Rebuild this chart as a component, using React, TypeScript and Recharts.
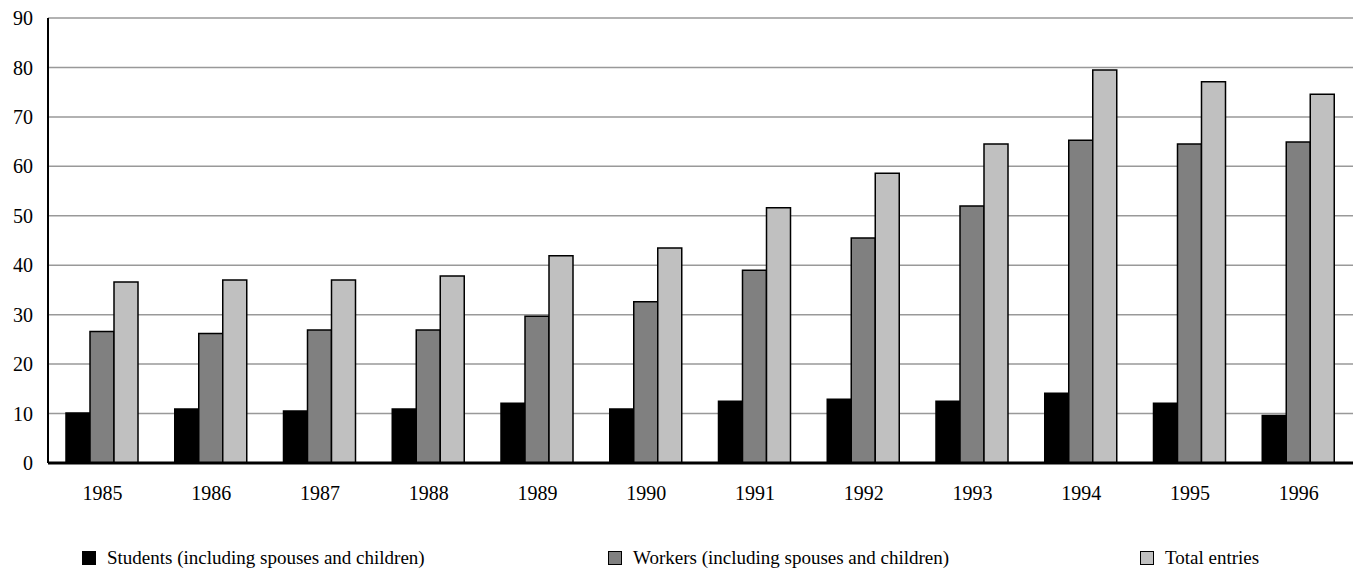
import React from "react";
import { BarChart, Bar, XAxis, YAxis, CartesianGrid, Legend } from "recharts";

const years = ["1985", "1986", "1987", "1988", "1989", "1990", "1991", "1992", "1993", "1994", "1995", "1996"];
const students = [10.1, 10.9, 10.5, 10.9, 12.1, 10.9, 12.5, 12.9, 12.5, 14.1, 12.1, 9.6];
const workers = [26.6, 26.2, 26.9, 26.9, 29.7, 32.6, 39.0, 45.5, 52.0, 65.3, 64.5, 64.9];
const totals = [36.6, 37.0, 37.0, 37.8, 41.9, 43.5, 51.6, 58.6, 64.5, 79.5, 77.1, 74.6];
const yTicks = [0, 10, 20, 30, 40, 50, 60, 70, 80, 90];

const seriesNames = {
  students: "Students (including spouses and children)",
  workers: "Workers (including spouses and children)",
  total: "Total entries",
};

const data = years.map((year, i) => ({
  year,
  students: students[i],
  workers: workers[i],
  total: totals[i],
}));

const FONT = "'Times New Roman', Tinos, 'Liberation Serif', 'DejaVu Serif', serif";

const legendItems = [
  { key: "students", color: "#000000", left: 82 },
  { key: "workers", color: "#808080", left: 608 },
  { key: "total", color: "#c0c0c0", left: 1140 },
];

const ChartLegend = () => (
  <div style={{ position: "relative", width: 1355, height: 26, fontFamily: FONT, fontSize: 19, color: "#000" }}>
    {legendItems.map((item) => (
      <div
        key={item.key}
        style={{ position: "absolute", left: item.left, top: 0, height: 26, display: "flex", alignItems: "center", whiteSpace: "nowrap" }}
      >
        <span
          style={{
            display: "inline-block",
            width: 12,
            height: 12,
            background: item.color,
            border: "1.5px solid #000",
            marginRight: 11,
          }}
        />
        <span>{seriesNames[item.key as keyof typeof seriesNames]}</span>
      </div>
    ))}
  </div>
);

const App = () => (
  <div style={{ position: "absolute", left: 0, top: 0, fontFamily: FONT }}>
    <BarChart
      width={1355}
      height={571}
      data={data}
      margin={{ top: 18, right: 2, left: 0, bottom: 0 }}
      barGap={0}
      barCategoryGap={18}
    >
      <CartesianGrid horizontal vertical={false} stroke="#999999" strokeWidth={1.5} />
      <XAxis
        dataKey="year"
        tickLine={false}
        tickSize={0}
        tickMargin={23}
        height={82}
        axisLine={{ stroke: "#000", strokeWidth: 3 }}
        tick={{ fill: "#000", fontSize: 20, fontFamily: FONT }}
      />
      <XAxis xAxisId="top" orientation="top" dataKey="year" height={0} tick={false} tickLine={false} axisLine={{ stroke: "#000", strokeWidth: 1.5 }} />
      <YAxis
        domain={[0, 90]}
        ticks={yTicks}
        width={48}
        tickLine={false}
        tickSize={0}
        tickMargin={15}
        axisLine={{ stroke: "#000", strokeWidth: 2 }}
        tick={{ fill: "#000", fontSize: 20, fontFamily: FONT }}
      />
      <YAxis yAxisId="right" orientation="right" width={0} domain={[0, 90]} tick={false} tickLine={false} axisLine={{ stroke: "#000", strokeWidth: 1.5 }} />
      <Legend verticalAlign="bottom" height={26} content={() => <ChartLegend />} />
      <Bar dataKey="students" name={seriesNames.students} fill="#000000" stroke="#000" strokeWidth={1.5} isAnimationActive={false} />
      <Bar dataKey="workers" name={seriesNames.workers} fill="#808080" stroke="#000" strokeWidth={1.5} isAnimationActive={false} />
      <Bar dataKey="total" name={seriesNames.total} fill="#c0c0c0" stroke="#000" strokeWidth={1.5} isAnimationActive={false} />
    </BarChart>
  </div>
);

export default App;
